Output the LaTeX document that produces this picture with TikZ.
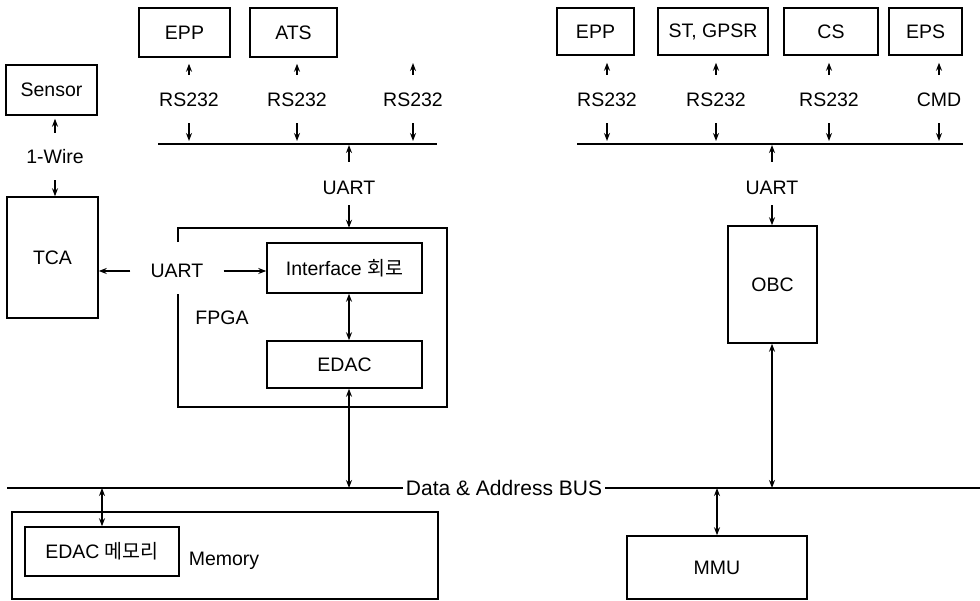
\documentclass[tikz,border=0pt]{standalone}
\usepackage{fontspec}
\setmainfont{Liberation Sans}
\newfontfamily\kr{Noto Sans CJK KR}
\usetikzlibrary{arrows.meta}
\begin{document}
\begin{tikzpicture}[x=1pt,y=-1pt,
  font=\fontsize{19.5}{22}\selectfont,
  box/.style={draw,line width=1.5pt,inner sep=0,anchor=center},
  lbl/.style={inner sep=0,text height=14pt,text depth=0pt},
  tip/.tip={Stealth[length=8pt,width=6pt]},
  arr/.style={line width=1.4pt,-tip},
  darr/.style={line width=1.4pt,tip-tip},
  wire/.style={line width=1.5pt}]
\useasboundingbox (0,0) rectangle (980,601);

% ---------- left top group ----------
\node[box,minimum width=91pt,minimum height=49pt] (eppA) at (184.5,32.5) {EPP};
\node[box,minimum width=87pt,minimum height=49pt] (atsA) at (293.5,32.5) {ATS};
\coordinate (noneA) at (413,57);
\node[lbl] (rA1) at (189,100) {RS232};
\node[lbl] (rA2) at (297,100) {RS232};
\node[lbl] (rA3) at (413,100) {RS232};
\coordinate (lineAL) at (158,144);
\coordinate (lineAR) at (437,144);
\draw[wire] (lineAL) -- (lineAR);
\foreach \r/\b in {rA1/eppA,rA2/atsA,rA3/noneA}{
  \draw[arr,shorten <=18pt,shorten >=6pt] (\r.north) -- (\r.north |- \b.south);
  \draw[arr,shorten <=16pt,shorten >=3pt] (\r.south) -- (\r.south |- lineAL);
}
\node[lbl] (uA) at (349,188) {UART};
\draw[arr,shorten <=19pt,shorten >=1pt] (uA.north) -- (uA.north |- lineAL);

% ---------- sensor / TCA ----------
\node[box,minimum width=91pt,minimum height=50pt] (sensor) at (51.5,90) {Sensor};
\node[lbl] (wire1) at (55,157) {1-Wire};
\node[box,minimum width=91pt,minimum height=121pt] (tca) at (52.5,257.5) {TCA};
\draw[arr,shorten <=17pt,shorten >=3pt] (wire1.north) -- (wire1.north |- sensor.south);
\draw[arr,shorten <=16pt] (wire1.south) -- (wire1.south |- tca.north);

% ---------- FPGA ----------
\node[minimum width=269pt,minimum height=179pt,inner sep=0] (fpga) at (312.5,317.5) {};
\node[box,minimum width=155pt,minimum height=50pt] (iface) at (344.5,268) {Interface {\kr 회로}};
\node[box,minimum width=155pt,minimum height=47pt] (edac) at (344.5,364.5) {EDAC};
\draw[wire] (fpga.west |- iface.north) -- (fpga.north west) -- (fpga.north east)
  -- (fpga.south east) -- (fpga.south west) -- (fpga.west |- iface.south);
\node[lbl] (fpgalbl) at (222,318) {FPGA};
\draw[arr,shorten <=10pt] (uA.south) -- (uA.south |- fpga.north);
\draw[darr] (uA |- iface.south) -- (uA |- edac.north);

\node[lbl] (uL) at (177,271) {UART};
\draw[arr,shorten <=20pt] (uL.west) -- (uL.west -| tca.east);
\draw[arr,shorten <=20pt] (uL.east) -- (uL.east -| iface.west);

% ---------- right top group ----------
\node[box,minimum width=77pt,minimum height=47pt] (eppB) at (595.5,31.5) {EPP};
\node[box,minimum width=110pt,minimum height=47pt] (stg) at (713,31.5) {ST, GPSR};
\node[box,minimum width=94pt,minimum height=47pt] (cs) at (831,31.5) {CS};
\node[box,minimum width=73pt,minimum height=47pt] (eps) at (925.5,31.5) {EPS};
\node[lbl] (rB1) at (607,100) {RS232};
\node[lbl] (rB2) at (716,100) {RS232};
\node[lbl] (rB3) at (829,100) {RS232};
\node[lbl] (rB4) at (939,100) {CMD};
\coordinate (lineBL) at (577,144);
\coordinate (lineBR) at (963,144);
\draw[wire] (lineBL) -- (lineBR);
\foreach \r/\b in {rB1/eppB,rB2/stg,rB3/cs,rB4/eps}{
  \draw[arr,shorten <=18pt,shorten >=7pt] (\r.north) -- (\r.north |- \b.south);
  \draw[arr,shorten <=16pt,shorten >=3pt] (\r.south) -- (\r.south |- lineBL);
}
\node[lbl] (uB) at (772,188) {UART};
\draw[arr,shorten <=19pt,shorten >=1pt] (uB.north) -- (uB.north |- lineBL);
\node[box,minimum width=89pt,minimum height=117pt] (obc) at (772.5,284.5) {OBC};
\draw[arr,shorten <=10pt] (uB.south) -- (uB.south |- obc.north);

% ---------- bus ----------
\coordinate (busL) at (7,488);
\coordinate (busR) at (980,488);
\node[inner ysep=0,inner xsep=3pt,font=\fontsize{21}{24}\selectfont] (buslbl) at (504,488) {Data \& Address BUS};
\draw[wire] (busL) -- (buslbl.west);
\draw[wire] (buslbl.east) -- (busR);
\draw[darr] (uA |- edac.south) -- (uA |- busL);
\draw[darr] (uB |- obc.south) -- (uB |- busL);

% ---------- memory / MMU ----------
\node[box,minimum width=426pt,minimum height=87pt] (mem) at (225,555.5) {};
\node[box,minimum width=154pt,minimum height=49pt] (edm) at (102,551.5) {EDAC {\kr 메모리}};
\node[lbl] (memlbl) at (224,558) {Memory};
\draw[darr] (edm.north) -- (edm.north |- busL);
\node[box,minimum width=180pt,minimum height=63pt] (mmu) at (717,567.5) {MMU};
\draw[darr] (mmu.north) -- (mmu.north |- busL);
\end{tikzpicture}
\end{document}
